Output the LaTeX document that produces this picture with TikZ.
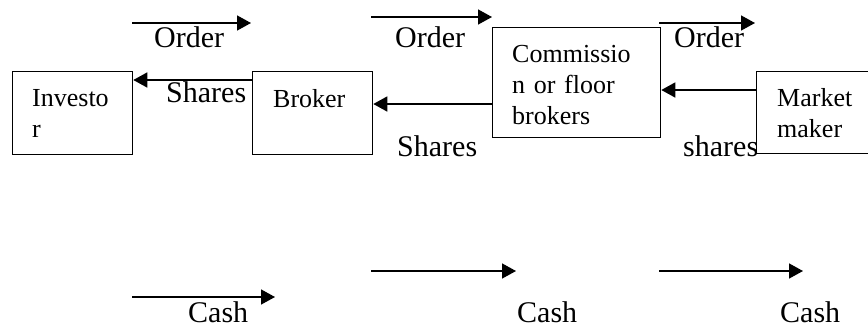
\documentclass[tikz,border=0pt]{standalone}
\usepackage{fontspec}
\setmainfont{Liberation Serif}
\usetikzlibrary{arrows.meta,calc}
\begin{document}
\begin{tikzpicture}[x=1pt,y=-1pt,
  box/.style={draw,line width=1.3pt,rectangle,inner sep=0pt,anchor=north west},
  btext/.style={anchor=base west,inner sep=0pt,font=\fontsize{26}{31}\selectfont,text width=150pt,align=left},
  lbl/.style={anchor=base west,inner sep=0pt,font=\fontsize{30}{36}\selectfont},
  arr/.style={line width=1.5pt,-{Triangle[length=14pt,width=15pt]}}]
\useasboundingbox (0,0) rectangle (868,327);
\clip (0,0) rectangle (868,327);
% boxes
\node[box,minimum width=120pt,minimum height=83pt] (inv) at (12,71) {};
\node[box,minimum width=120pt,minimum height=83pt] (brk) at (252,71) {};
\node[box,minimum width=168pt,minimum height=110pt] (com) at (492,27) {};
\node[box,minimum width=130pt,minimum height=82pt] (mm) at (756,71) {};
% box texts
\node[btext] (invt) at (32,106) {Investo\\r};
\node[btext] (brkt) at (273,107) {Broker};
\node[btext] (comt) at (512,62) {Commissio\\n or floor\\brokers};
\node[btext] (mmt) at (777,106) {Market\\maker};
% free arrow ends
\coordinate (o1s) at (132,23); \coordinate (o1e) at (251,23);
\coordinate (o2s) at (371,17); \coordinate (o2e) at (492,17);
\coordinate (o3s) at (659,23); \coordinate (o3e) at (755,23);
\coordinate (c1s) at (132,297); \coordinate (c1e) at (275,297);
\coordinate (c2s) at (371,271); \coordinate (c2e) at (516,271);
\coordinate (c3s) at (659,271); \coordinate (c3e) at (803,271);
% arrows
\draw[arr] (o1s) -- (o1e);
\draw[arr] (o2s) -- (o2e);
\draw[arr] (o3s) -- (o3e);
\draw[arr] (brk.west |- 0,80) -- (inv.east |- 0,80);
\draw[arr] (com.west |- 0,104) -- (brk.east |- 0,104);
\draw[arr] (mm.west |- 0,90) -- (com.east |- 0,90);
\draw[arr] (c1s) -- (c1e);
\draw[arr] (c2s) -- (c2e);
\draw[arr] (c3s) -- (c3e);
% labels
\node[lbl] (lo1) at (154,47) {Order};
\node[lbl] (lo2) at (395,47) {Order};
\node[lbl] (lo3) at (674,47) {Order};
\node[lbl] (ls1) at (166,102) {Shares};
\node[lbl] (ls2) at (397,156) {Shares};
\node[lbl] (ls3) at (683,156) {shares};
\node[lbl] (lc1) at (188,322) {Cash};
\node[lbl] (lc2) at (517,322) {Cash};
\node[lbl] (lc3) at (780,322) {Cash};
\end{tikzpicture}
\end{document}
